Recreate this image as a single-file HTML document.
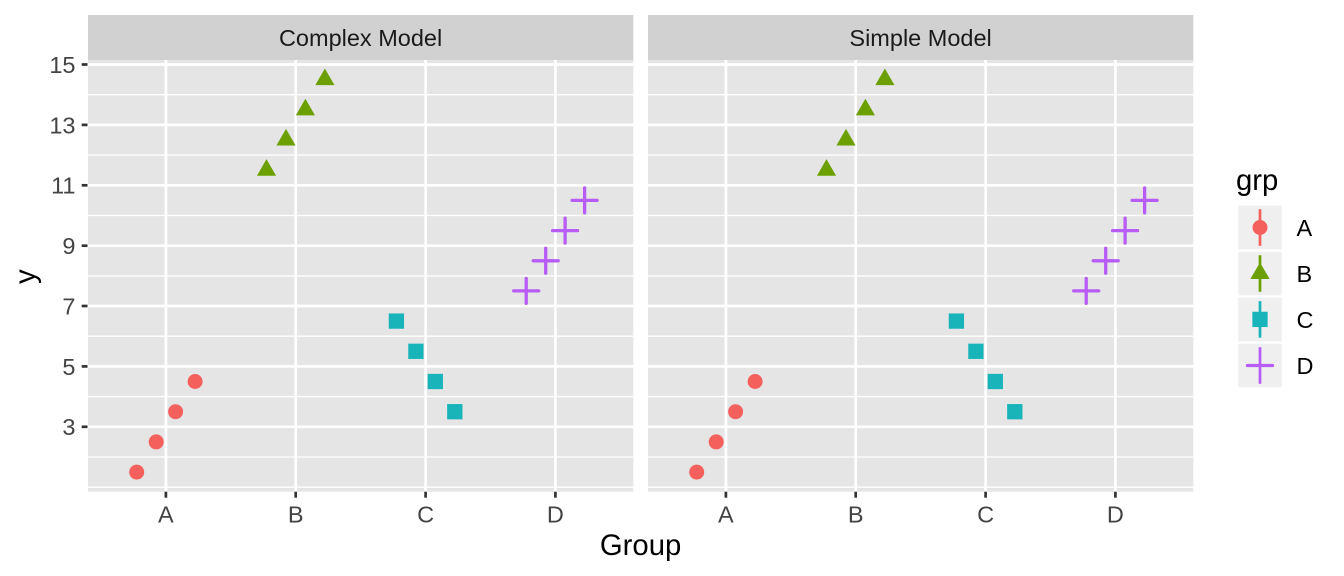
<!DOCTYPE html>
<html><head><meta charset="utf-8"><style>
html,body{margin:0;padding:0;background:#fff;}
svg{display:block;}
text{font-family:"Liberation Sans",Arial,sans-serif;}
</style></head><body>
<svg width="1344" height="576" viewBox="0 0 1344 576" xmlns="http://www.w3.org/2000/svg">
<defs>
<g id="panel">
  <rect x="88" y="60" width="545.3" height="431.7" fill="#E5E5E5"/>
  <g stroke="#fff" stroke-width="1.35">
    <line x1="88" x2="633.3" y1="487.2" y2="487.2"/>
    <line x1="88" x2="633.3" y1="457.0" y2="457.0"/>
    <line x1="88" x2="633.3" y1="396.6" y2="396.6"/>
    <line x1="88" x2="633.3" y1="336.2" y2="336.2"/>
    <line x1="88" x2="633.3" y1="275.9" y2="275.9"/>
    <line x1="88" x2="633.3" y1="215.5" y2="215.5"/>
    <line x1="88" x2="633.3" y1="155.1" y2="155.1"/>
    <line x1="88" x2="633.3" y1="94.7" y2="94.7"/>
  </g>
  <g stroke="#fff" stroke-width="2.7">
    <line x1="88" x2="633.3" y1="426.8" y2="426.8"/>
    <line x1="88" x2="633.3" y1="366.4" y2="366.4"/>
    <line x1="88" x2="633.3" y1="306.0" y2="306.0"/>
    <line x1="88" x2="633.3" y1="245.7" y2="245.7"/>
    <line x1="88" x2="633.3" y1="185.3" y2="185.3"/>
    <line x1="88" x2="633.3" y1="124.9" y2="124.9"/>
    <line x1="88" x2="633.3" y1="64.5" y2="64.5"/>
    <line y1="60" y2="491.7" x1="165.9" x2="165.9"/>
    <line y1="60" y2="491.7" x1="295.7" x2="295.7"/>
    <line y1="60" y2="491.7" x1="425.6" x2="425.6"/>
    <line y1="60" y2="491.7" x1="555.4" x2="555.4"/>
  </g>
  <g fill="#F4605C">
    <circle cx="136.7" cy="472.1" r="7.5"/>
    <circle cx="156.2" cy="441.9" r="7.5"/>
    <circle cx="175.6" cy="411.7" r="7.5"/>
    <circle cx="195.1" cy="381.5" r="7.5"/>
  </g>
  <g fill="#6CA000">
    <polygon points="266.5,159.1 276.1,175.75 256.9,175.75"/>
    <polygon points="286.0,128.9 295.6,145.55 276.4,145.55"/>
    <polygon points="305.4,98.7 315.0,115.35 295.8,115.35"/>
    <polygon points="324.9,68.5 334.5,85.15 315.3,85.15"/>
  </g>
  <g fill="#19B4B9">
    <rect x="388.75" y="313.45" width="15.3" height="15.3"/>
    <rect x="408.25" y="343.65" width="15.3" height="15.3"/>
    <rect x="427.65" y="373.85" width="15.3" height="15.3"/>
    <rect x="447.15" y="404.05" width="15.3" height="15.3"/>
  </g>
  <g stroke="#B75CF6" stroke-width="3.3" stroke-linecap="round">
    <path d="M513.7 290.9h25M526.2 278.4v25"/>
    <path d="M533.2 260.8h25M545.7 248.3v25"/>
    <path d="M552.6 230.6h25M565.1 218.1v25"/>
    <path d="M572.1 200.4h25M584.6 187.9v25"/>
  </g>
  <g stroke="#333" stroke-width="2.7">
    <line x1="165.9" x2="165.9" y1="491.7" y2="497.7"/>
    <line x1="295.7" x2="295.7" y1="491.7" y2="497.7"/>
    <line x1="425.6" x2="425.6" y1="491.7" y2="497.7"/>
    <line x1="555.4" x2="555.4" y1="491.7" y2="497.7"/>
  </g>
  <g font-size="23.5" fill="#444" text-anchor="middle">
    <text x="165.9" y="522.5">A</text>
    <text x="295.7" y="522.5">B</text>
    <text x="425.6" y="522.5">C</text>
    <text x="555.4" y="522.5">D</text>
  </g>
  <rect x="88" y="15" width="545.3" height="45" fill="#D1D1D1"/>
</g>
</defs>

<use href="#panel"/>
<use href="#panel" x="560"/>

<text x="360.6" y="46" font-size="23.5" fill="#1A1A1A" text-anchor="middle">Complex Model</text>
<text x="920.6" y="46" font-size="23.5" fill="#1A1A1A" text-anchor="middle">Simple Model</text>

<!-- y axis ticks -->
<g stroke="#333" stroke-width="2.7">
  <line x1="81.7" x2="87.5" y1="426.8" y2="426.8"/>
  <line x1="81.7" x2="87.5" y1="366.4" y2="366.4"/>
  <line x1="81.7" x2="87.5" y1="306.0" y2="306.0"/>
  <line x1="81.7" x2="87.5" y1="245.7" y2="245.7"/>
  <line x1="81.7" x2="87.5" y1="185.3" y2="185.3"/>
  <line x1="81.7" x2="87.5" y1="124.9" y2="124.9"/>
  <line x1="81.7" x2="87.5" y1="64.5" y2="64.5"/>
</g>
<g font-size="23.5" fill="#444" text-anchor="end">
  <text x="75.5" y="435.2">3</text>
  <text x="75.5" y="374.8">5</text>
  <text x="75.5" y="314.4">7</text>
  <text x="75.5" y="254.1">9</text>
  <text x="75.5" y="193.7">11</text>
  <text x="75.5" y="133.3">13</text>
  <text x="75.5" y="72.9">15</text>
</g>

<!-- axis titles -->
<text x="640.6" y="555" font-size="29.3" fill="#000" text-anchor="middle">Group</text>
<text transform="translate(35.2,276.7) rotate(-90)" font-size="29.3" fill="#000" text-anchor="middle">y</text>

<!-- legend -->
<text x="1236" y="190" font-size="29.3" fill="#000">grp</text>
<g fill="#EFEFEF">
  <rect x="1238.3" y="205.7" width="43.4" height="43.6"/>
  <rect x="1238.3" y="251.7" width="43.4" height="43.6"/>
  <rect x="1238.3" y="297.7" width="43.4" height="43.6"/>
  <rect x="1238.3" y="343.7" width="43.4" height="43.6"/>
</g>
<g stroke-width="2.7">
  <line x1="1260" x2="1260" y1="209.2" y2="245.8" stroke="#F4605C"/>
  <line x1="1260" x2="1260" y1="255.2" y2="291.8" stroke="#6CA000"/>
  <line x1="1260" x2="1260" y1="301.1" y2="337.7" stroke="#19B4B9"/>
  <line x1="1260" x2="1260" y1="347.2" y2="383.8" stroke="#B75CF6"/>
</g>
<circle cx="1260" cy="227.5" r="7.5" fill="#F4605C"/>
<polygon points="1260,262.4 1269.6,279.05 1250.4,279.05" fill="#6CA000"/>
<rect x="1252.35" y="311.75" width="15.3" height="15.3" fill="#19B4B9"/>
<path d="M1247.5 365.5h25" stroke="#B75CF6" stroke-width="3.3" stroke-linecap="round"/>
<g font-size="23.5" fill="#000">
  <text x="1296.5" y="235.9">A</text>
  <text x="1296.5" y="281.9">B</text>
  <text x="1296.5" y="327.8">C</text>
  <text x="1296.5" y="373.9">D</text>
</g>
</svg>
</body></html>
